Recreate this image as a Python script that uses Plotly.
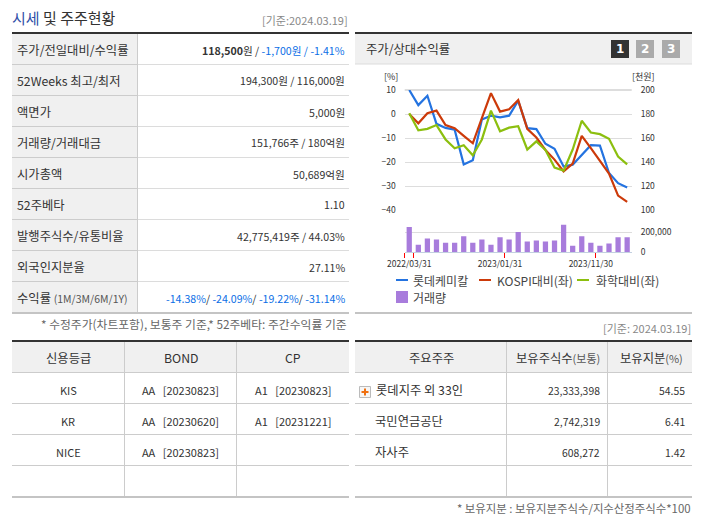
#!/usr/bin/env python3
# -*- coding: utf-8 -*-
import plotly.graph_objs as go

dates = ['2022/03/31', '2022/04/29', '2022/05/31', '2022/06/30', '2022/07/29',
         '2022/08/31', '2022/09/30', '2022/10/31', '2022/11/30', '2022/12/29',
         '2023/01/31', '2023/02/28', '2023/03/31', '2023/04/28', '2023/05/31',
         '2023/06/30', '2023/07/31', '2023/08/31', '2023/09/27', '2023/10/31',
         '2023/11/30', '2023/12/28', '2024/01/31', '2024/02/29', '2024/03/19']
lotte = [10, 3.7, 7.6, -4.1, -5.8, -6.5, -21, -19.3, -2.3, -0.7, -1.4, -0.7, 5.5,
         -5.9, -6.3, -12.4, -14.5, -21.9, -21.1, -17, -13, -13.2, -24.6, -28.8, -30.6]
kospi = [0, -3.9, 0.3, 1.4, -4.6, -5.9, -9.1, -12.2, -1.7, 8.7, 1, 2, 5.8,
         -6.2, -9.8, -15, -19, -23.9, -20.7, -9.1, -14.2, -19.3, -24.8, -34, -36.6]
chem = [0.3, -6.8, -6.2, -4.6, -10.6, -14.3, -13, -17.2, -10.6, 1.4, -7.2, -5.7, -5.1,
        -14.8, -11.4, -15, -22.3, -23.6, -14.8, -2.8, -7.7, -8.4, -10.3, -17.7, -21]
volume = [257000, 75000, 139000, 129000, 96000, 96000, 161000, 96000, 129000, 75000,
          150000, 129000, 204000, 107000, 118000, 107000, 118000, 279000, 64000, 161000,
          96000, 64000, 86000, 150000, 150000]

pct_ticks = [-40, -30, -20, -10, 0, 10]
price_ticks = [100, 120, 140, 160, 180, 200]
vol_ticks = [0, 200000, 400000]
vol_labels = ['0', '200,000', '']

BLUE = '#0a6ee6'
info_labels = ['주가/전일대비/수익률', '52Weeks 최고/최저', '액면가', '거래량/거래대금', '시가총액',
               '52주베타', '발행주식수/유통비율', '외국인지분율',
               '수익률 <span style="font-size:10.5px;color:#555">(1M/3M/6M/1Y)</span>']
info_values = ['<b>118,500</b>원 / <span style="color:%s">-1,700원 / -1.41%%</span>' % BLUE,
               '194,300원 / 116,000원', '5,000원', '151,766주 / 180억원', '50,689억원', '1.10',
               '42,775,419주 / 44.03%', '27.11%',
               '<span style="color:%s">-14.38%%</span>/ <span style="color:%s">-24.09%%</span>/ '
               '<span style="color:%s">-19.22%%</span>/ <span style="color:%s">-31.14%%</span>'
               % (BLUE, BLUE, BLUE, BLUE)]

credit_header = ['신용등급', 'BOND', 'CP']
credit_rows = [['KIS', 'AA   [20230823]', 'A1   [20230823]'],
               ['KR', 'AA   [20230620]', 'A1   [20231221]'],
               ['NICE', 'AA   [20230823]', '']]

holder_header = ['주요주주', '보유주식수<span style="font-size:11px;color:#555">(보통)</span>',
                 '보유지분<span style="font-size:11px;color:#555">(%)</span>']
holder_names = ['롯데지주 외 33인', '국민연금공단', '자사주']
holder_shares = ['23,333,398', '2,742,319', '608,272']
holder_stakes = ['54.55', '6.41', '1.42']

legend_names = ['롯데케미칼', 'KOSPI대비(좌)', '화학대비(좌)', '거래량']

# the page body keeps its 8px margin, so the figure is 8px smaller and everything shifts by it
OFF = 8
W, H = 702 - OFF, 525 - OFF
FONT = 'Noto Sans CJK KR'
RED, GRN, SKY, PURPLE = '#cc3a0a', '#8cbf0f', '#2473e0', '#a87cdc'
GRID = '#dddddd'
LINE1, LINE2 = '#cccccc', '#dcdcdc'
DARK = '#333333'
HEAD = '#f0f0f0'


def px(x):
    return (x - OFF) / W


def py_(y):
    return 1 - (y - OFF) / H


shapes = []
notes = []


def rect(x0, y0, x1, y1, fill, line=None):
    shapes.append(dict(type='rect', xref='paper', yref='paper', layer='below',
                       x0=px(x0), x1=px(x1), y0=py_(y0), y1=py_(y1), fillcolor=fill,
                       line=dict(color=line or fill, width=1 if line else 0)))


def seg(x0, y0, x1, y1, color, width=1):
    shapes.append(dict(type='line', xref='paper', yref='paper', layer='below',
                       x0=px(x0), x1=px(x1), y0=py_(y0), y1=py_(y1),
                       line=dict(color=color, width=width)))


def text(x, y, s, anchor='left', size=12.3, color=DARK):
    notes.append(dict(text=s, xref='paper', yref='paper', x=px(x), y=py_(y), xanchor=anchor,
                      yanchor='middle', showarrow=False, borderpad=0,
                      font=dict(family=FONT, size=size, color=color)))


# 시세 및 주주현황
text(11, 18, '<span style="color:#2f50a8">시세</span> 및 주주현황', size=15)
text(349, 20, '[기준:2024.03.19]', 'right', 11, '#888888')
rect(12, 33.5, 137.5, 312, HEAD)
for i in range(8):
    yy = 64.5 + 31 * i
    seg(12, yy, 137.5, yy, LINE1)
    seg(137.5, yy, 349, yy, LINE2)
for i, (lab, val) in enumerate(zip(info_labels, info_values)):
    yy = 50 + 31 * i
    text(15.5, yy, lab)
    text(345.5, yy, val, 'right', 10.6)
seg(137.5, 33, 137.5, 312, LINE1)
seg(12, 33, 349, 33, DARK, 2)
seg(12, 313, 349, 313, '#c4c4c4', 2)
text(348, 323, '* 수정주가(차트포함), 보통주 기준,* 52주베타: 주간수익률 기준', 'right', 11.8, '#666666')

# 주가/상대수익률 panel
rect(355, 33, 692, 64, HEAD)
seg(355, 64, 692, 64, LINE2)
seg(355, 33, 692, 33, DARK, 2)
seg(355, 313, 692, 313, '#c4c4c4', 2)
text(365, 49, '주가/상대수익률')
for i, (bx, col) in enumerate(zip([611, 636, 662], [DARK, '#aaaaaa', '#aaaaaa'])):
    rect(bx, 40, bx + 18, 58, col)
    notes.append(dict(text='<b>%d</b>' % (i + 1), xref='paper', yref='paper', x=px(bx + 9), y=py_(49),
                      xanchor='center', yanchor='middle', showarrow=False,
                      font=dict(family='DejaVu Sans', size=12, color='white')))
text(391, 76, '[%]', 'center', 9)
text(643, 76, '[천원]', 'center', 9)
text(692, 328, '[기준: 2024.03.19]', 'right', 11, '#888888')
seg(404.7, 90, 631.7, 90, GRID, 2)

# legend
for x0, tx, yy, col, name in zip([396, 479, 577], [412.5, 496, 594.5], [280, 280, 280],
                                 [SKY, RED, GRN], legend_names):
    seg(x0, yy, x0 + 12, yy, col, 2)
    text(tx, yy, name, size=12, color='#444444')
rect(396, 291, 408, 303, PURPLE)
text(412.5, 297, legend_names[3], size=12, color='#444444')

# 신용등급
seg(12, 341, 349, 341, DARK, 2)
rect(12, 342, 349, 372, HEAD)
for yy in [372.5, 403.5, 434.5, 465.5]:
    seg(12, yy, 349, yy, LINE1)
seg(12, 497, 349, 497, '#c4c4c4', 2)
for xx in [124.5, 236.5]:
    seg(xx, 342, xx, 496, LINE1)
for xx, s in zip([68, 181, 293], credit_header):
    text(xx, 358, s, 'center')
for i, row in enumerate(credit_rows):
    for xx, s in zip([68, 180, 293], row):
        if s:
            text(xx, 390 + 31 * i, s, 'center', 11)

# 주요주주
seg(355, 341, 692, 341, DARK, 2)
rect(355, 342, 692, 372, HEAD)
for yy in [372.5, 403.5, 434.5, 465.5]:
    seg(355, yy, 692, yy, LINE1)
seg(355, 497, 692, 497, '#c4c4c4', 2)
for xx in [506.5, 607.5]:
    seg(xx, 342, xx, 496, LINE1)
for xx, s in zip([431, 557.5, 651], holder_header):
    text(xx, 358, s, 'center')
rect(359.5, 386.5, 370.5, 397.5, '#f6f6f6', '#bbbbbb')
seg(361.5, 392, 368.5, 392, '#f07010', 2)
seg(365, 388.5, 365, 395.5, '#f07010', 2)
for i, (nm, sh, st) in enumerate(zip(holder_names, holder_shares, holder_stakes)):
    yy = 390 + 31 * i
    text(375 if i == 0 else 374, yy, nm)
    text(600.5, yy, sh, 'right', 10.4)
    text(685.5, yy, st, 'right', 10.4)
text(692, 508, '* 보유지분 : 보유지분주식수/지수산정주식수*100', 'right', 11.4, '#666666')

x_dom = [px(404.7), px(631.7)]
tick_font = dict(family=FONT, size=8.5, color=DARK)


def line_trace(y, color, name):
    return go.Scatter(x=dates, y=y, mode='lines', name=name, cliponaxis=False,
                      line=dict(color=color, width=2.2), xaxis='x', yaxis='y')


fig = go.Figure(
    data=[
        go.Bar(x=dates, y=volume, name=legend_names[3], marker=dict(color=PURPLE, line=dict(width=0)),
               width=0.58, xaxis='x2', yaxis='y3'),
        go.Scatter(x=dates, y=[None] * len(dates), xaxis='x', yaxis='y2', showlegend=False, hoverinfo='skip'),
        line_trace(lotte, SKY, legend_names[0]),
        line_trace(kospi, RED, legend_names[1]),
        line_trace(chem, GRN, legend_names[2]),
    ],
    layout=go.Layout(
        width=W, height=H, margin=dict(l=0, r=0, t=0, b=0, pad=0),
        paper_bgcolor='white', plot_bgcolor='rgba(0,0,0,0)',
        showlegend=False, bargap=0.4,
        font=dict(family=FONT, color=DARK),
        shapes=shapes, annotations=notes,
        xaxis=dict(domain=x_dom, type='category', categoryorder='array', categoryarray=dates,
                   range=[-0.5, len(dates) - 0.5], anchor='free', position=py_(252), automargin=False,
                   showgrid=False, zeroline=False, showline=True, linecolor='#c3d0e0', linewidth=1,
                   tickmode='array', tickvals=[-0.5, 0.5, 10.5, 20.5], ticks='outside', ticklen=5,
                   tickcolor='#ff0000', showticklabels=False),
        xaxis2=dict(domain=x_dom, type='category', categoryorder='array', categoryarray=dates,
                    range=[-0.5, len(dates) - 0.5], anchor='y3', showgrid=False, zeroline=False,
                    automargin=False, tickmode='array', tickvals=[dates[0], dates[10], dates[20]], ticks='',
                    tickangle=0, ticklabelstandoff=5, tickfont=tick_font),
        yaxis=dict(domain=[py_(210), py_(90)], range=[pct_ticks[0], pct_ticks[-1]], anchor='x',
                   automargin=False, tickmode='array', tickvals=pct_ticks, gridcolor=GRID, gridwidth=1,
                   zeroline=False, showline=False, ticks='', ticklabelstandoff=8, tickfont=tick_font),
        yaxis2=dict(domain=[py_(210), py_(90)], range=[price_ticks[0], price_ticks[-1]], anchor='x',
                    overlaying='y', side='right', tickmode='array', tickvals=price_ticks, automargin=False,
                    showgrid=False, zeroline=False, ticks='', ticklabelstandoff=8, tickfont=tick_font),
        yaxis3=dict(domain=[py_(252), py_(213)], range=[vol_ticks[0], vol_ticks[-1]], anchor='x2',
                    side='right', tickmode='array', tickvals=vol_ticks, ticktext=vol_labels, automargin=False,
                    gridcolor=GRID, zeroline=False, ticks='', ticklabelstandoff=8, tickfont=tick_font),
    )
)

fig.write_html("out.html")
